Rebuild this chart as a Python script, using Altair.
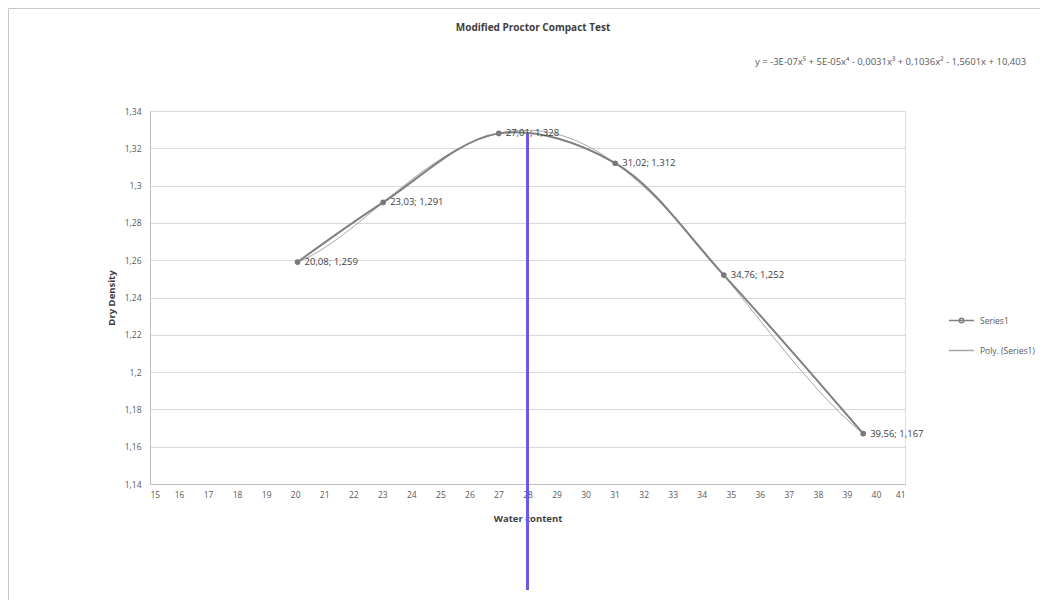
import altair as alt
import pandas as pd

# ---- data ----
water = [20.08, 23.03, 27.01, 31.02, 34.76, 39.56]
density = [1.259, 1.291, 1.328, 1.312, 1.252, 1.167]
series_names = ["Series1", "Poly. (Series1)"]
x_ticks = list(range(15, 42))
y_ticks = [1.14, 1.16, 1.18, 1.2, 1.22, 1.24, 1.26, 1.28, 1.3, 1.32, 1.34]
marker_x = [28]
marker_y = [1.328]
equation = "y = -3E-07x\u2075 + 5E-05x\u2074 - 0,0031x\u00b3 + 0,1036x\u00b2 - 1,5601x + 10,403"
title_text = "Modified Proctor Compact Test"

def fmt(v, d):
    return f"{v:.{d}f}".replace(".", ",")

labels = [f"{fmt(a, 2)}; {fmt(b, 3)}" for a, b in zip(water, density)]
df = pd.DataFrame({"x": water, "y": density, "series": "Series1", "label": labels})
rule_df = pd.DataFrame({"x": marker_x, "y": marker_y})
eq_df = pd.DataFrame({"t": [equation]})
title_df = pd.DataFrame({"t": [title_text]})
frame_df = pd.DataFrame({"k": [0]})

FONT = "Open Sans"
W, H = 755, 373

xs = alt.Scale(domain=[15, 41], nice=False, zero=False)
ys = alt.Scale(domain=[1.14, 1.34], nice=False, zero=False)

x_axis = alt.Axis(values=x_ticks, grid=False, ticks=False, labelPadding=6,
                  title="Water content", titleFontWeight="bold", titleFontSize=9.5,
                  titleY=29, titleBaseline="top", labelFontSize=8.5, labelColor="#595959",
                  domainColor="#bfbfbf", titleColor="#404040", labelFont=FONT, titleFont=FONT)
y_axis = alt.Axis(values=y_ticks, grid=True, gridColor="#d9d9d9", ticks=False,
                  labelPadding=9, labelExpr="replace(format(datum.value, '.2~f'), '.', ',')",
                  title="Dry Density", titleFontWeight="bold", titleFontSize=9.5,
                  titleX=-34, titleY=H / 2, labelFontSize=8.5, labelColor="#595959",
                  domainColor="#bfbfbf", titleColor="#404040", labelFont=FONT, titleFont=FONT)

X = alt.X("x:Q", scale=xs, axis=x_axis)
Y = alt.Y("y:Q", scale=ys, axis=y_axis)

color_scale = alt.Scale(domain=series_names, range=["#808080", "#a6a6a6"])
shape_scale = alt.Scale(domain=series_names,
                        range=["M-1,0H1M-0.18,0a0.18,0.18 0 1,0 0.36,0a0.18,0.18 0 1,0 -0.36,0",
                               "M-1,0H1"])
leg = alt.Legend(title=None, orient="none", legendX=798, legendY=196,
                 symbolSize=625, symbolStrokeWidth=1.5, symbolFillColor="#808080",
                 symbolOpacity=1, labelFontSize=8.5, labelColor="#595959", labelFont=FONT,
                 rowPadding=11, labelOffset=5)

base = alt.Chart(df)

frame = alt.Chart(frame_df).mark_rect(fill=None, stroke="#c8c8c8", strokeWidth=1).encode(
    x=alt.value(-141.5), x2=alt.value(2000), y=alt.value(-102.5), y2=alt.value(2000))

poly = base.transform_regression("x", "y", method="poly", order=5).transform_calculate(
    series="'Poly. (Series1)'").mark_line(strokeWidth=1).encode(
    x=X, y=Y, color=alt.Color("series:N", scale=color_scale, legend=leg))

line = base.mark_line(interpolate="catmull-rom", strokeWidth=2).encode(
    x=X, y=Y, color=alt.Color("series:N", scale=color_scale, legend=leg))

carrier = base.mark_point(opacity=0).encode(
    x=X, y=Y,
    color=alt.Color("series:N", scale=color_scale, legend=leg),
    shape=alt.Shape("series:N", scale=shape_scale, legend=leg))

points = base.mark_point(filled=True, size=32, color="#7a7a7a", opacity=1).encode(x=X, y=Y)

texts = base.mark_text(align="left", dx=7, dy=0, fontSize=9.5, font=FONT, color="#404040").encode(
    x=X, y=Y, text="label:N")

rule = alt.Chart(rule_df).mark_rule(color="#6a5ae8", strokeWidth=3).encode(
    x=X, y=Y, y2=alt.value(479))

eq = alt.Chart(eq_df).mark_text(align="left", baseline="middle", fontSize=9.5, font=FONT,
                                color="#595959").encode(
    x=alt.value(605), y=alt.value(-49), text="t:N")

title = alt.Chart(title_df).mark_text(align="center", baseline="middle", fontSize=10,
                                      font=FONT, fontWeight="bold", color="#404040").encode(
    x=alt.value(383), y=alt.value(-83), text="t:N")

chart = alt.layer(frame, poly, line, carrier, points, texts, rule, eq, title).properties(
    width=W, height=H,
    autosize=alt.AutoSizeParams(type="none"),
    padding={"left": 142, "top": 103, "right": 135, "bottom": 116},
).configure_view(stroke=None).configure(background="white")

chart.save("out.html", embed_options={"renderer": "svg", "actions": False})
